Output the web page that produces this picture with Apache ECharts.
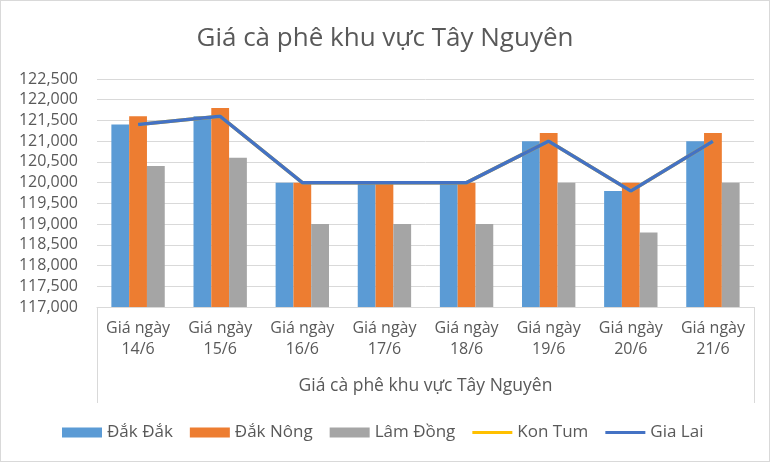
<!DOCTYPE html>
<html>
<head>
<meta charset="utf-8">
<script src="https://cdn.jsdelivr.net/npm/echarts@6/dist/echarts.min.js"></script>
<style>
  html, body { margin: 0; padding: 0; background: #fff; }
  #chart { width: 768px; height: 460px; border: 1px solid #d9d9d9; }
</style>
</head>
<body>
<div id="chart"></div>
<script>
// categories and values
var days = ['14/6', '15/6', '16/6', '17/6', '18/6', '19/6', '20/6', '21/6'];
var dakDak = [121400, 121600, 120000, 120000, 120000, 121000, 119800, 121000];
var dakNong = [121600, 121800, 120000, 120000, 120000, 121200, 120000, 121200];
var lamDong = [120400, 120600, 119000, 119000, 119000, 120000, 118800, 120000];
var konTum = [121400, 121600, 120000, 120000, 120000, 121000, 119800, 121000];
var giaLai = [121400, 121600, 120000, 120000, 120000, 121000, 119800, 121000];

var FONT = 'Open Sans';
var TXT = '#595959';
// flat line icon for line series in the legend (bounds kept at 40x10)
var LINE_ICON = 'path://M0,0 M40,10 M0,3.6 L40,3.6 L40,6.4 L0,6.4 Z';

var myChart = echarts.init(document.getElementById('chart'));

var option = {
    animation: false,
    textStyle: { fontFamily: FONT },
    title: {
        text: 'Giá cà phê khu vực Tây Nguyên',
        left: 'center',
        top: 20,
        textStyle: { fontFamily: FONT, fontSize: 26, fontWeight: 'normal', color: TXT }
    },
    legend: {
        top: 418,
        left: 56,
        itemGap: 17,
        itemWidth: 40,
        itemHeight: 10,
        textStyle: { fontFamily: FONT, fontSize: 17, color: TXT },
        data: [
            { name: 'Đắk Đắk', icon: 'rect' },
            { name: 'Đắk Nông', icon: 'rect' },
            { name: 'Lâm Đồng', icon: 'rect' },
            { name: 'Kon Tum', icon: LINE_ICON },
            { name: 'Gia Lai', icon: LINE_ICON }
        ]
    },
    grid: { left: 96, right: 15, top: 78, bottom: 154, containLabel: false },
    xAxis: {
        type: 'category',
        data: days.map(function (d) { return 'Giá ngày\n' + d; }),
        name: 'Giá cà phê khu vực Tây Nguyên',
        nameLocation: 'middle',
        nameGap: 70,
        nameTextStyle: { fontFamily: FONT, fontSize: 17.5, color: TXT },
        axisLine: { lineStyle: { color: '#d9d9d9' } },
        axisTick: { show: false },
        axisLabel: { interval: 0, fontFamily: FONT, fontSize: 16, color: TXT, margin: 11, lineHeight: 21 }
    },
    yAxis: {
        type: 'value',
        min: 117000,
        max: 122500,
        interval: 500,
        axisLine: { show: false },
        axisTick: { show: false },
        splitLine: { lineStyle: { color: '#d9d9d9' } },
        axisLabel: {
            fontFamily: FONT, fontSize: 16, color: TXT, margin: 19,
            formatter: function (v) { return v.toLocaleString('en-US'); }
        }
    },
    graphic: [
        { type: 'line', shape: { x1: 96.5, y1: 306, x2: 96.5, y2: 402 }, style: { stroke: '#d9d9d9', lineWidth: 1 } },
        { type: 'line', shape: { x1: 753.5, y1: 306, x2: 753.5, y2: 402 }, style: { stroke: '#d9d9d9', lineWidth: 1 } }
    ],
    series: [
        { name: 'Đắk Đắk', type: 'bar', data: dakDak, barGap: '0%', barCategoryGap: '35%', itemStyle: { color: '#5b9bd5' } },
        { name: 'Đắk Nông', type: 'bar', data: dakNong, itemStyle: { color: '#ed7d31' } },
        { name: 'Lâm Đồng', type: 'bar', data: lamDong, itemStyle: { color: '#a5a5a5' } },
        { name: 'Kon Tum', type: 'line', data: konTum, symbol: 'none', lineStyle: { color: '#ffc000', width: 3.5 }, itemStyle: { color: '#ffc000' } },
        { name: 'Gia Lai', type: 'line', data: giaLai, symbol: 'none', lineStyle: { color: '#4472c4', width: 3.5 }, itemStyle: { color: '#4472c4' } }
    ]
};

myChart.setOption(option);
</script>
</body>
</html>
